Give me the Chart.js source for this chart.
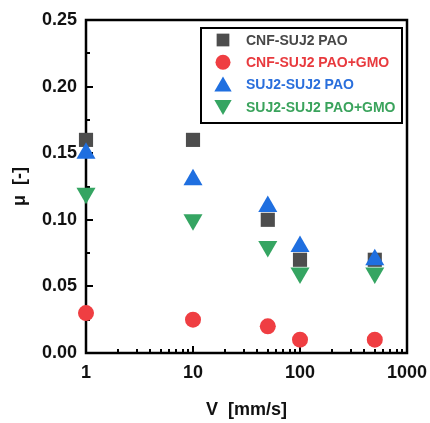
<!DOCTYPE html>
<html>
<head>
<meta charset="utf-8">
<script src="https://cdn.jsdelivr.net/npm/chart.js@4"></script>
<style>
  html, body { margin: 0; padding: 0; background: #fff; }
  #wrap { width: 430px; height: 423px; }
</style>
</head>
<body>
<div id="wrap"><canvas id="chart"></canvas></div>
<script>
// values
const speeds = [1, 10, 50, 100, 500];
const cnfPao = [0.16, 0.16, 0.10, 0.07, 0.07];
const cnfPaoGmo = [0.03, 0.025, 0.02, 0.01, 0.01];
const sujPao = [0.15, 0.13, 0.11, 0.08, 0.07];
const sujPaoGmo = [0.12, 0.10, 0.08, 0.06, 0.06];
const seriesNames = ['CNF-SUJ2 PAO', 'CNF-SUJ2 PAO+GMO', 'SUJ2-SUJ2 PAO', 'SUJ2-SUJ2 PAO+GMO'];
const xTicks = [1, 10, 100, 1000];
const yTicks = [0, 0.05, 0.10, 0.15, 0.20, 0.25];

const FONT = '"Liberation Sans", Arial, sans-serif';

function pts(ys) {
    return speeds.map((x, i) => ({ x: x, y: ys[i] }));
}

const datasets = [
    { label: seriesNames[0], data: pts(cnfPao), pointStyle: 'rect', pointRadius: 10, backgroundColor: '#4d4d4d', textColor: '#474747', order: 4 },
    { label: seriesNames[1], data: pts(cnfPaoGmo), pointStyle: 'circle', pointRadius: 8, backgroundColor: '#ef3e42', textColor: '#e83a3e', order: 3 },
    { label: seriesNames[2], data: pts(sujPao), pointStyle: 'triangle', pointRadius: 11, backgroundColor: '#1f6fe0', textColor: '#2a6fdc', order: 2 },
    { label: seriesNames[3], data: pts(sujPaoGmo), pointStyle: 'triangle', pointRotation: 180, pointRadius: 11, backgroundColor: '#35a562', textColor: '#3aa35c', order: 1 }
];
datasets.forEach(d => {
    d.borderWidth = 0;
    d.pointBorderWidth = 0;
    d.pointHoverRadius = d.pointRadius;
    d.clip = false;
});

// frame and inner ticks (under the markers), legend on top
const framePlugin = {
    id: 'frame',
    beforeDatasetsDraw(chart) {
        const { ctx, chartArea: a, scales } = chart;
        const xs = scales.x, ys = scales.y;
        ctx.save();
        ctx.strokeStyle = '#000';
        ctx.lineWidth = 2;
        for (let v = 0; v <= 0.25001; v += 0.025) {
            const y = Math.round(ys.getPixelForValue(v));
            const major = Math.round(v * 1000) % 50 === 0;
            ctx.beginPath();
            ctx.moveTo(a.left, y);
            ctx.lineTo(a.left + (major ? 7 : 4), y);
            ctx.stroke();
        }
        for (let dec = 1; dec < 1000; dec *= 10) {
            for (let m = 1; m <= 10; m++) {
                const x = Math.round(xs.getPixelForValue(dec * m));
                const major = m === 1 || m === 10;
                ctx.beginPath();
                ctx.moveTo(x, a.bottom);
                ctx.lineTo(x, a.bottom - (major ? 7 : 4));
                ctx.stroke();
            }
        }
        ctx.lineWidth = 2.5;
        ctx.strokeRect(a.left, a.top, a.right - a.left, a.bottom - a.top);
        ctx.restore();
    },
    afterDatasetsDraw(chart) {
        const { ctx, chartArea: a } = chart;
        const lx = a.right - 206, ly = a.top + 8, lw = 201, lh = 95;
        ctx.save();
        ctx.fillStyle = '#fff';
        ctx.fillRect(lx, ly, lw, lh);
        ctx.strokeStyle = '#000';
        ctx.lineWidth = 2;
        ctx.strokeRect(lx, ly, lw, lh);
        ctx.font = 'bold 14px ' + FONT;
        ctx.textBaseline = 'middle';
        ctx.textAlign = 'left';
        chart.data.datasets.forEach((d, i) => {
            const cy = ly + 12 + i * 22.3;
            ctx.fillStyle = d.backgroundColor;
            Chart.helpers.drawPoint(ctx, {
                pointStyle: d.pointStyle,
                rotation: d.pointRotation || 0,
                radius: d.pointStyle === 'circle' ? 7.5 : (d.pointStyle === 'rect' ? 9 : 10),
                borderWidth: 0
            }, lx + 22, cy + (d.pointStyle === 'triangle' ? (d.pointRotation ? -2 : 2) : 0));
            ctx.fillStyle = d.textColor;
            ctx.fillText(d.label, lx + 45, cy + 1);
        });
        ctx.restore();
    }
};

new Chart(document.getElementById('chart'), {
    type: 'scatter',
    data: { datasets: datasets },
    options: {
        responsive: true,
        maintainAspectRatio: false,
        animation: false,
        layout: { padding: { top: 20, right: 23, left: 0, bottom: 0 } },
        plugins: { legend: { display: false }, tooltip: { enabled: false } },
        scales: {
            x: {
                type: 'logarithmic',
                min: 1,
                max: 1000,
                grid: { display: false, drawTicks: false },
                border: { display: false },
                afterBuildTicks(scale) { scale.ticks = xTicks.map(v => ({ value: v })); },
                afterFit(scale) {
                    scale.height = 70;
                    scale.paddingLeft = 0;
                    scale.paddingRight = 0;
                },
                ticks: {
                    color: '#111',
                    padding: 9,
                    maxRotation: 0,
                    font: { family: FONT, size: 18, weight: 'bold' },
                    callback: v => String(v)
                },
                title: {
                    display: true,
                    text: 'V  [mm/s]',
                    color: '#111',
                    padding: { top: 0, bottom: 2 },
                    font: { family: FONT, size: 18, weight: 'bold' }
                }
            },
            y: {
                min: 0,
                max: 0.25,
                grid: { display: false, drawTicks: false },
                border: { display: false },
                afterBuildTicks(scale) { scale.ticks = yTicks.map(v => ({ value: v })); },
                afterFit(scale) {
                    scale.width = 86;
                    scale.paddingTop = 0;
                    scale.paddingBottom = 0;
                },
                ticks: {
                    color: '#111',
                    padding: 9,
                    font: { family: FONT, size: 18, weight: 'bold' },
                    callback: v => Number(v).toFixed(2)
                },
                title: {
                    display: true,
                    text: 'μ  [-]',
                    color: '#111',
                    padding: { top: 9, bottom: 0 },
                    font: { family: FONT, size: 18, weight: 'bold' }
                }
            }
        }
    },
    plugins: [framePlugin]
});
</script>
</body>
</html>
